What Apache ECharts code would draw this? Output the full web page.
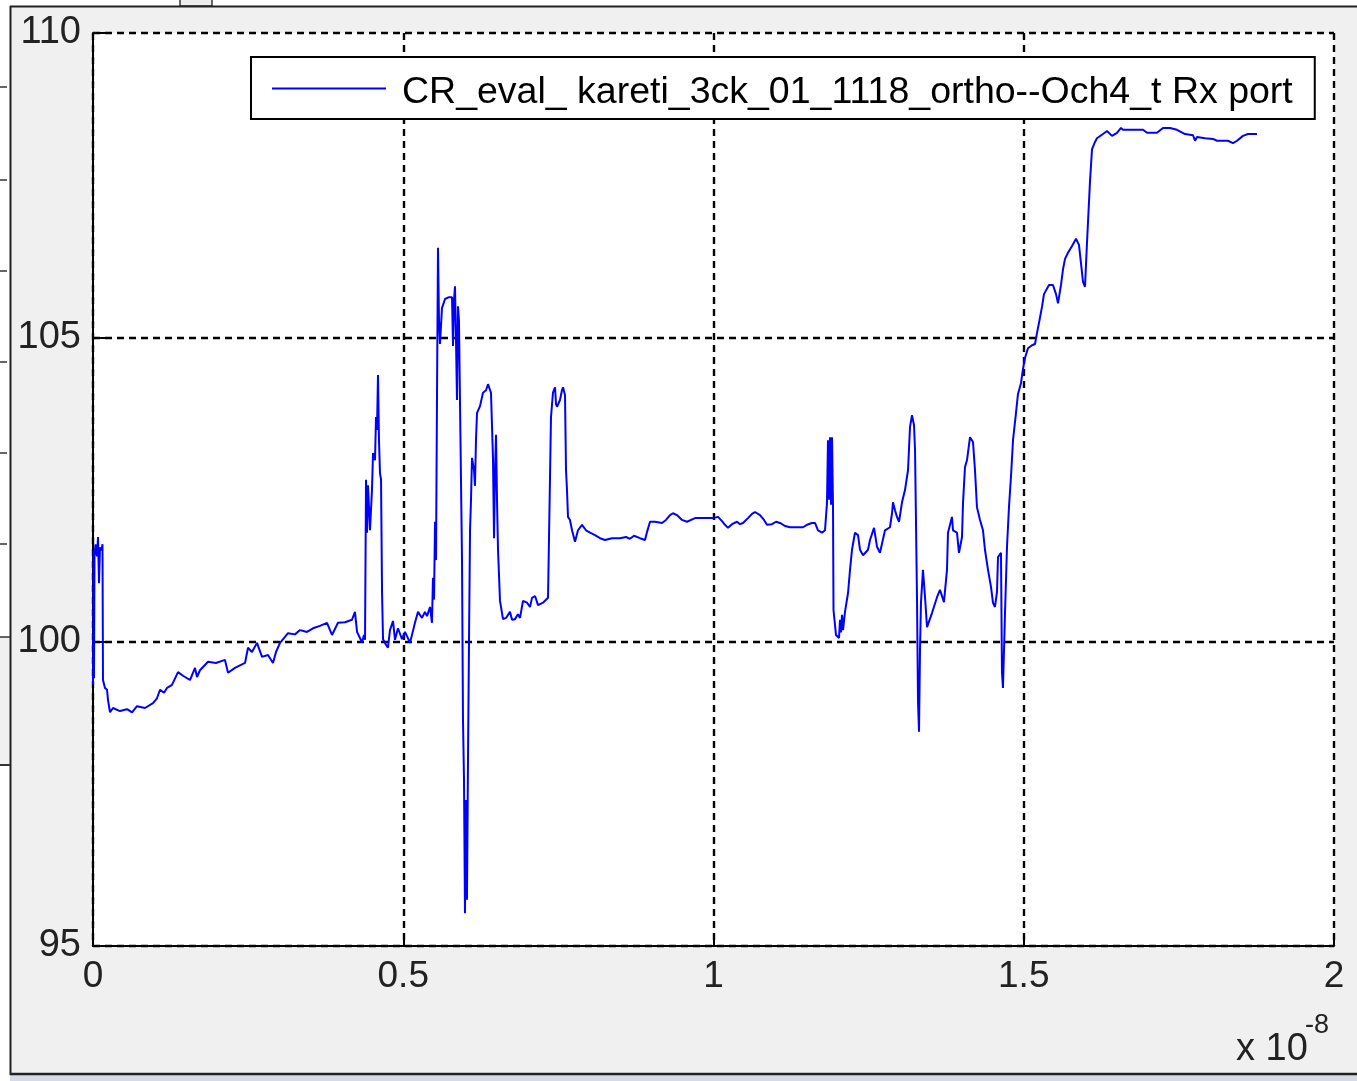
<!DOCTYPE html>
<html>
<head>
<meta charset="utf-8">
<title>CR_eval Rx port</title>
<script src="https://cdn.jsdelivr.net/npm/echarts@6/dist/echarts.min.js"></script>
<style>
  html, body { margin: 0; padding: 0; background: #fff; }
  #chart { width: 1357px; height: 1081px; }
</style>
</head>
<body>
<div id="chart"></div>
<script>
const seriesName = 'CR_eval_ kareti_3ck_01_1118_ortho--Och4_t Rx port';
const xTicks = [0, 0.5, 1, 1.5, 2];   // x 10^-8
const yTicks = [95, 100, 105, 110];
const xExponent = '-8';

// time in units of 1e-8
const timeValues = [
  0, 0.0008, 0.0016, 0.0024, 0.0040, 0.0064, 0.0081, 0.0097, 0.0113, 0.0137, 0.0153, 0.0161,
  0.0193, 0.0226, 0.0242, 0.0274, 0.0322, 0.0435, 0.0548, 0.0629, 0.0709, 0.0838, 0.0967, 0.1031,
  0.108, 0.1144, 0.1193, 0.1273, 0.137, 0.145, 0.1563, 0.1644, 0.1676, 0.1724, 0.1853, 0.1982,
  0.2127, 0.2176, 0.2288, 0.245, 0.2498, 0.2562, 0.2643, 0.2724, 0.282, 0.2901, 0.2949, 0.3014,
  0.3143, 0.3255, 0.3336, 0.3449, 0.3546, 0.3658, 0.3771, 0.3852, 0.3948, 0.4061, 0.4174, 0.4222,
  0.4255, 0.4335, 0.4367, 0.4384, 0.44, 0.4416, 0.4432, 0.4464, 0.4496, 0.4513, 0.4545, 0.4561,
  0.4577, 0.4593, 0.4609, 0.4625, 0.4642, 0.4658, 0.4674, 0.4722, 0.4754, 0.4786, 0.4835, 0.4867,
  0.4915, 0.498, 0.5028, 0.506, 0.5109, 0.5141, 0.5189, 0.5238, 0.5302, 0.535, 0.5383, 0.5431,
  0.5463, 0.5479, 0.5496, 0.5512, 0.5528, 0.5544, 0.556, 0.5576, 0.5592, 0.5624, 0.5673, 0.5737,
  0.5786, 0.5802, 0.5818, 0.5834, 0.585, 0.5866, 0.5882, 0.5898, 0.5915, 0.5947, 0.5963, 0.5979,
  0.5995, 0.6011, 0.6027, 0.6043, 0.606, 0.6076, 0.6092, 0.6108, 0.614, 0.6156, 0.6172, 0.6189,
  0.6237, 0.6285, 0.6334, 0.6366, 0.6414, 0.6446, 0.6463, 0.6479, 0.6495, 0.6511, 0.6527, 0.6559,
  0.6608, 0.6656, 0.672, 0.6753, 0.6801, 0.6849, 0.6882, 0.693, 0.6995, 0.7043, 0.7075, 0.7124,
  0.7172, 0.7204, 0.7252, 0.7333, 0.7349, 0.7381, 0.7413, 0.7446, 0.7462, 0.7478, 0.7526, 0.7558,
  0.7575, 0.7607, 0.7623, 0.7639, 0.7655, 0.7687, 0.772, 0.7768, 0.7816, 0.7881, 0.7945, 0.801,
  0.809, 0.8171, 0.8251, 0.8364, 0.8493, 0.859, 0.8654, 0.8719, 0.8815, 0.8896, 0.8928, 0.8977,
  0.9057, 0.917, 0.9234, 0.9299, 0.9347, 0.9411, 0.9492, 0.9573, 0.9702, 0.9863, 0.9992, 1.0073,
  1.0137, 1.0185, 1.0234, 1.0298, 1.0379, 1.0427, 1.0475, 1.0556, 1.062, 1.0669, 1.0749, 1.0814,
  1.0862, 1.0943, 1.1007, 1.1072, 1.1152, 1.1233, 1.1346, 1.1442, 1.1507, 1.1587, 1.1636, 1.1684,
  1.1749, 1.1797, 1.1829, 1.1845, 1.1861, 1.1878, 1.1894, 1.191, 1.1926, 1.1934, 1.1974, 1.2023,
  1.2039, 1.2055, 1.2071, 1.2087, 1.2119, 1.2168, 1.22, 1.2232, 1.228, 1.2329, 1.2361, 1.241,
  1.2442, 1.249, 1.2522, 1.2587, 1.2635, 1.2683, 1.2764, 1.2844, 1.2877, 1.2893, 1.2925, 1.2957,
  1.299, 1.3038, 1.3086, 1.3135, 1.3167, 1.3199, 1.3231, 1.3248, 1.328, 1.3296, 1.3312, 1.3328,
  1.3344, 1.3376, 1.3409, 1.3441, 1.3521, 1.3602, 1.365, 1.3714, 1.3763, 1.3779, 1.3843, 1.386,
  1.3924, 1.3956, 1.4005, 1.4021, 1.4053, 1.4085, 1.4134, 1.4182, 1.4214, 1.4246, 1.4295, 1.4343,
  1.4375, 1.4424, 1.4472, 1.4504, 1.4536, 1.4569, 1.4585, 1.4633, 1.4649, 1.4665, 1.4698, 1.473,
  1.4762, 1.4794, 1.4827, 1.4875, 1.4907, 1.4956, 1.4988, 1.502, 1.5068, 1.5133, 1.5181, 1.5213,
  1.5246, 1.5294, 1.5326, 1.5407, 1.5471, 1.552, 1.5552, 1.56, 1.5633, 1.5665, 1.5713, 1.5778,
  1.5842, 1.589, 1.5923, 1.5955, 1.5987, 1.6019, 1.6051, 1.6068, 1.61, 1.6148, 1.618, 1.6277,
  1.6342, 1.6422, 1.6503, 1.6567, 1.66, 1.6922, 1.6987, 1.7147, 1.7244, 1.7357, 1.747, 1.7599,
  1.7728, 1.776, 1.7792, 1.7921, 1.805, 1.8114, 1.8291, 1.8372, 1.8437, 1.8533, 1.8614, 1.8759
];

const levelValues = [
  99.3, 101.5, 99.4, 101.4, 101.6, 101.4, 101.72, 100.96, 101.55, 101.5, 101.6, 99.37,
  99.24, 99.21, 99.04, 98.84, 98.91, 98.86, 98.89, 98.84, 98.94, 98.91, 98.99, 99.07,
  99.21, 99.16, 99.24, 99.29, 99.5, 99.44, 99.37, 99.57, 99.42, 99.53, 99.67, 99.65,
  99.7, 99.49, 99.57, 99.65, 99.9, 99.83, 99.98, 99.75, 99.78, 99.65, 99.83, 99.98,
  100.14, 100.12, 100.19, 100.16, 100.22, 100.26, 100.31, 100.11, 100.31, 100.32, 100.36, 100.49,
  100.16, 99.99, 100.11, 100.03, 102.66, 101.79, 102.57, 101.83, 102.49, 103.1, 102.98, 103.69,
  103.48, 104.38, 103.31, 102.77, 102.66, 100.82, 100.04, 99.95, 99.9, 100.19, 100.34, 100.03,
  100.22, 100.04, 100.16, 100.09, 99.98, 99.98, 100.31, 100.49, 100.39, 100.49, 100.42, 100.57,
  100.31, 101.05, 100.69, 101.97, 101.34, 104.05, 106.47, 105.28, 104.89, 105.48, 105.63, 105.66,
  105.66, 104.86, 105.61, 105.84, 104.96, 103.97, 105.51, 105.28, 103.9, 101.34, 98.7, 97.73,
  95.54, 97.4, 95.76, 97.99, 100.03, 101.82, 102.33, 103.02, 102.82, 102.56, 103.31, 103.76,
  103.87, 104.09, 104.13, 104.23, 104.09, 103.02, 101.7, 102.82, 103.4, 102.33, 101.52, 100.67,
  100.37, 100.39, 100.49, 100.36, 100.37, 100.45, 100.39, 100.67, 100.64, 100.57, 100.72, 100.75,
  100.6, 100.57, 100.64, 100.72, 101.7, 103.69, 104.09, 104.18, 103.9, 103.86, 103.97, 104.13,
  104.18, 104.05, 102.82, 102.49, 102.05, 102.0, 101.83, 101.64, 101.83, 101.92, 101.83, 101.79,
  101.75, 101.7, 101.67, 101.7, 101.7, 101.72, 101.69, 101.74, 101.7, 101.67, 101.8, 101.97,
  101.97, 101.95, 102.0, 102.08, 102.11, 102.08, 102.0, 101.97, 102.03, 102.03, 102.03, 102.05,
  101.98, 101.92, 101.87, 101.93, 101.97, 101.93, 101.95, 102.03, 102.1, 102.13, 102.08, 102.0,
  101.92, 101.93, 101.97, 101.95, 101.9, 101.88, 101.88, 101.88, 101.92, 101.95, 101.95, 101.83,
  101.79, 101.83, 102.28, 103.31, 102.33, 103.36, 102.25, 103.36, 102.21, 100.52, 100.11, 100.06,
  100.36, 100.15, 100.44, 100.19, 100.49, 100.8, 101.18, 101.51, 101.79, 101.75, 101.51, 101.42,
  101.39, 101.51, 101.67, 101.87, 101.56, 101.46, 101.83, 101.88, 102.11, 102.29, 102.16, 102.05,
  101.97, 102.29, 102.49, 102.82, 103.53, 103.72, 103.56, 103.15, 100.68, 99.01, 98.52, 99.86,
  100.65, 101.18, 100.73, 100.24, 100.47, 100.73, 100.85, 100.65, 101.18, 101.79, 102.05, 101.83,
  101.79, 101.46, 101.72, 102.28, 102.87, 102.98, 103.36, 103.28, 102.82, 102.21, 102.0, 101.83,
  101.51, 101.18, 100.9, 100.64, 100.57, 100.82, 101.39, 101.46, 99.49, 99.24, 100.47, 101.56,
  102.21, 102.71, 103.31, 103.76, 104.07, 104.25, 104.48, 104.66, 104.82, 104.87, 104.89, 105.07,
  105.24, 105.5, 105.71, 105.86, 105.86, 105.71, 105.56, 105.86, 106.12, 106.29, 106.39, 106.5,
  106.62, 106.52, 106.21, 105.91, 105.83, 106.55, 106.58, 107.57, 108.09, 108.21, 108.27, 108.34,
  108.39, 108.31, 108.36, 108.44, 108.41, 108.41, 108.36, 108.36, 108.44, 108.44, 108.41, 108.34,
  108.32, 108.23, 108.29, 108.27, 108.26, 108.23, 108.23, 108.19, 108.23, 108.31, 108.34, 108.34
];

const fontFamily = '"Liberation Sans", Arial, Helvetica, sans-serif';
const points = timeValues.map((t, i) => [t, levelValues[i]]);

const chart = echarts.init(document.getElementById('chart'));

// window frame bits around the axes (MATLAB figure chrome)
const frame = [
  { type: 'rect', shape: { x: 0, y: 0, width: 1357, height: 6 }, style: { fill: '#fff' } },
  { type: 'rect', shape: { x: 0, y: 6, width: 10, height: 631 }, style: { fill: '#fff' } },
  { type: 'rect', shape: { x: 0, y: 765, width: 10, height: 316 }, style: { fill: '#fff' } },
  { type: 'rect', shape: { x: 180, y: -2, width: 32, height: 8 }, style: { fill: '#ececec', stroke: '#333', lineWidth: 1.5 } },
  { type: 'line', shape: { x1: 10, y1: 6.5, x2: 1357, y2: 6.5 }, style: { stroke: '#222', lineWidth: 2 } },
  { type: 'line', shape: { x1: 10.5, y1: 6, x2: 10.5, y2: 1075 }, style: { stroke: '#222', lineWidth: 2 } },
  { type: 'line', shape: { x1: 0, y1: 637, x2: 10, y2: 637 }, style: { stroke: '#333', lineWidth: 1.5 } },
  { type: 'line', shape: { x1: 0, y1: 765, x2: 10, y2: 765 }, style: { stroke: '#333', lineWidth: 2 } },
  { type: 'rect', shape: { x: 10, y: 1075, width: 1347, height: 6 }, style: { fill: '#d4dbe4' } },
  { type: 'line', shape: { x1: 10, y1: 1074, x2: 1357, y2: 1074 }, style: { stroke: '#222', lineWidth: 2.5 } }
];
[87, 180, 271, 362, 453, 544].forEach(y => {
  frame.push({ type: 'line', shape: { x1: 0, y1: y, x2: 7, y2: y }, style: { stroke: '#333', lineWidth: 1.5 } });
});
frame.push(
  { type: 'text', x: 1236, y: 1050, style: { text: 'x 10', font: '38px ' + fontFamily, fill: '#222', verticalAlign: 'middle' } },
  { type: 'text', x: 1305, y: 1026, style: { text: xExponent, font: '27px ' + fontFamily, fill: '#222', verticalAlign: 'middle' } }
);

const option = {
  backgroundColor: '#f0f0f0',
  animation: false,
  grid: {
    left: 93, right: 23, top: 33, bottom: 135,
    show: true, backgroundColor: '#fff', borderWidth: 0,
    outerBoundsMode: 'none'
  },
  legend: {
    data: [seriesName],
    left: 251, top: 57,
    padding: [8, 22, 7, 21],
    backgroundColor: '#fff',
    borderColor: '#000',
    borderWidth: 2,
    icon: 'rect',
    itemWidth: 114,
    itemHeight: 2,
    formatter: name => '{t|' + name + '}',
    textStyle: {
      rich: {
        t: {
          fontFamily: fontFamily,
          fontSize: 37.5,
          lineHeight: 36,
          color: '#000',
          padding: [9, 0, 0, 11]
        }
      }
    }
  },
  xAxis: {
    type: 'value',
    min: xTicks[0],
    max: xTicks[xTicks.length - 1],
    interval: xTicks[1] - xTicks[0],
    axisLine: { lineStyle: { color: '#000', width: 2 } },
    axisTick: { inside: true, length: 10, lineStyle: { color: '#000', width: 2 } },
    axisLabel: { margin: 12, fontFamily: fontFamily, fontSize: 37, color: '#222' },
    splitLine: { show: true, lineStyle: { color: '#000', width: 2.4, type: [7, 5] } }
  },
  yAxis: {
    type: 'value',
    min: yTicks[0],
    max: yTicks[yTicks.length - 1],
    interval: yTicks[1] - yTicks[0],
    axisLine: { show: true, lineStyle: { color: '#000', width: 2 } },
    axisTick: { show: true, inside: true, length: 13, lineStyle: { color: '#000', width: 2 } },
    axisLabel: { margin: 12, fontFamily: fontFamily, fontSize: 38, color: '#222' },
    splitLine: { show: true, lineStyle: { color: '#000', width: 2.4, type: [7, 5] } }
  },
  series: [
    {
      name: seriesName,
      type: 'line',
      data: points,
      showSymbol: false,
      symbol: 'none',
      itemStyle: { color: '#0000ff' },
      lineStyle: { color: '#0000ff', width: 2 }
    }
  ],
  graphic: frame
};

chart.setOption(option);
</script>
</body>
</html>
